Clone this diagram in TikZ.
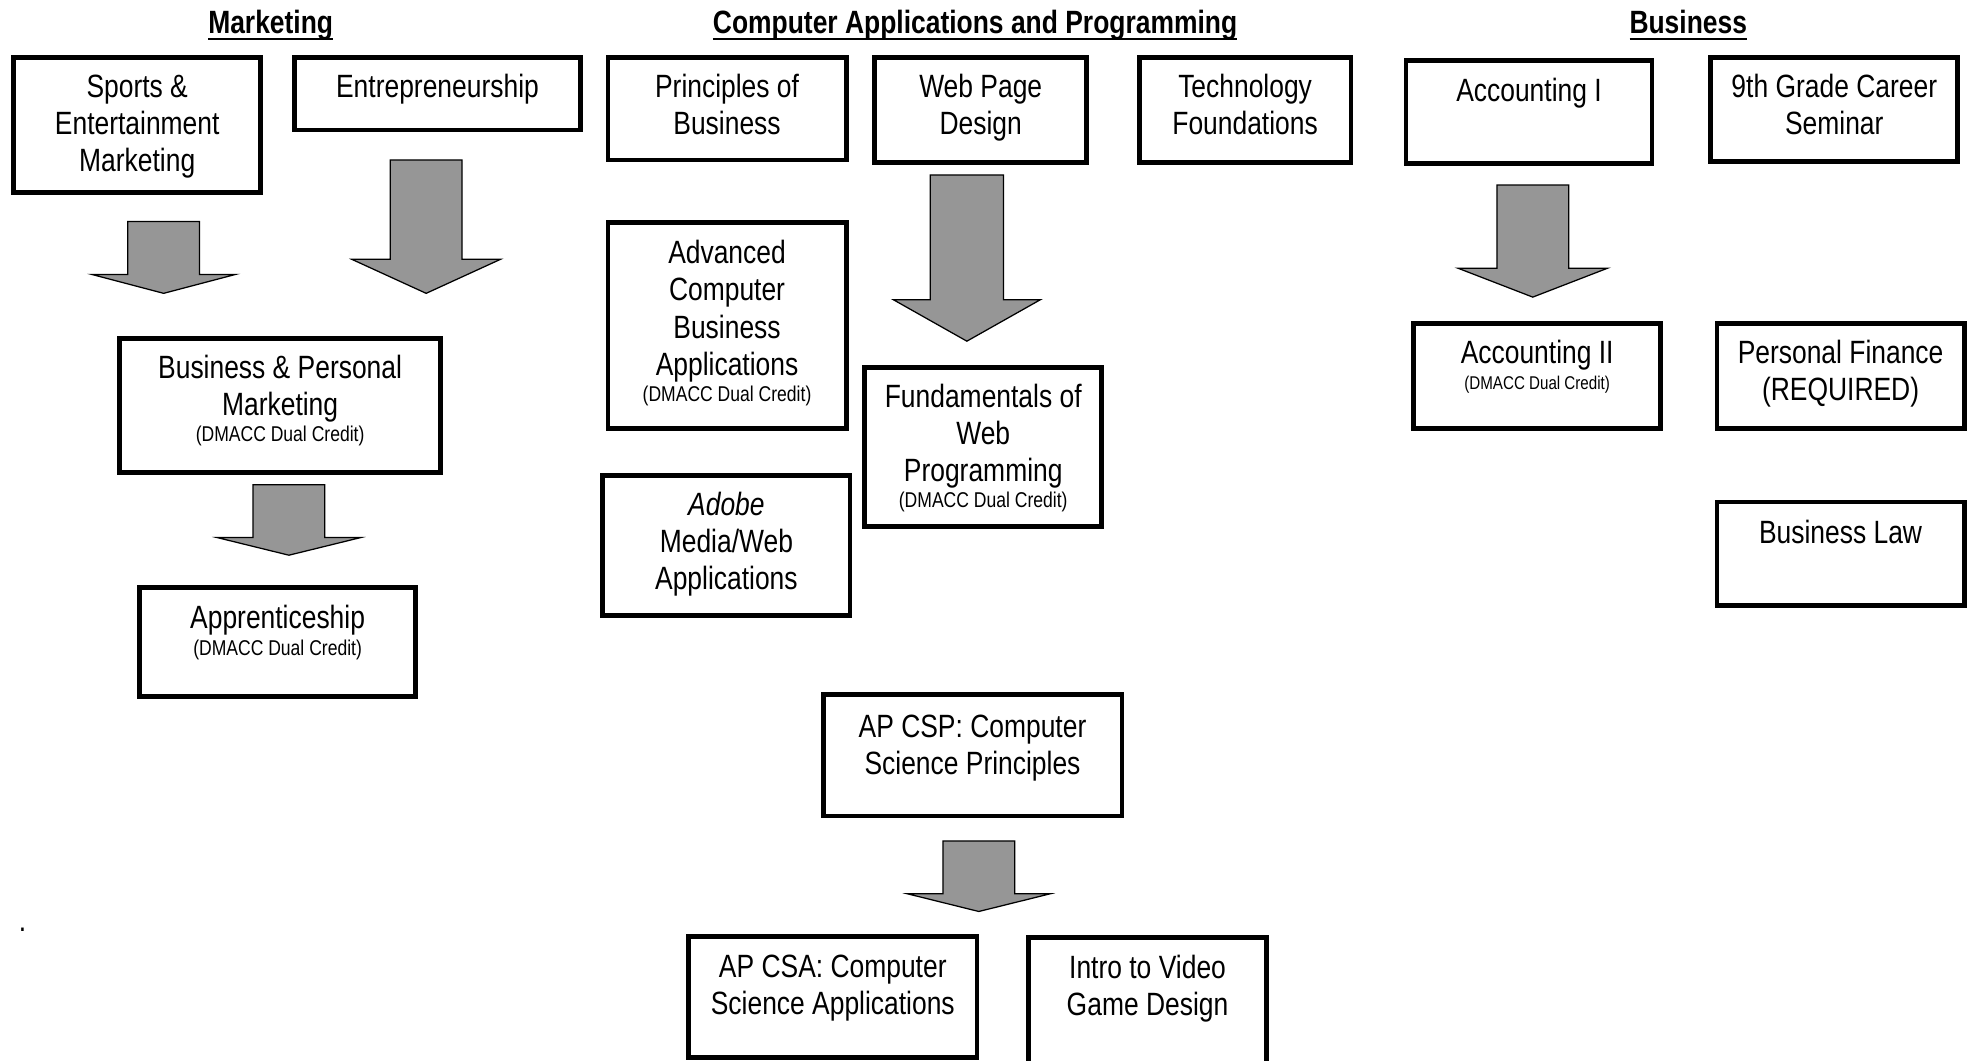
\documentclass[tikz,border=0pt]{standalone}
\usepackage{fontspec}
\setmainfont[FakeStretch=0.82]{Liberation Sans}
\usetikzlibrary{fit}
\definecolor{arrowgray}{RGB}{150,150,150}
\newcommand{\mainsize}{\fontsize{15.36pt}{17.7pt}\selectfont}
\newcommand{\dualcredit}{\fontsize{10.2pt}{12pt}\selectfont (DMACC Dual Credit)}
\newcommand{\dualcreditsm}{\fontsize{8.8pt}{10.5pt}\selectfont (DMACC Dual Credit)}
\newcommand{\headul}[1]{\setbox0\hbox{#1}\rlap{\rule[-3.1pt]{\wd0}{0.9pt}}\box0}
\newcommand{\course}[5]{\node[coursebox, fit={(#2+1.85,#3+1.85) (#4-1.85,#5-1.85)}] (#1) {};}
\newcommand{\blockarrow}[7]{\draw[blockarr] (#2-#3,#4) -- (#2+#3,#4) -- (#2+#3,#5) -- (#2+#6,#5) -- (#2,#7) -- (#2-#6,#5) -- (#2-#3,#5) -- cycle;}
\begin{document}
\begin{tikzpicture}[x=0.6pt,y=-0.6pt,
  coursebox/.style={draw, line width=2.25pt, inner sep=0pt},
  txt/.style={inner sep=0pt, align=center, anchor=north, font=\mainsize},
  heading/.style={inner sep=0pt, anchor=base, font=\mainsize\bfseries},
  blockarr/.style={fill=arrowgray, draw=black, line width=0.6pt, line join=miter}]
\useasboundingbox (0,0) rectangle (1568,842);
\fill[white] (0,0) rectangle (1568,842);

% headings
\node[heading] (hmkt) at (215,26.5) {\headul{Marketing}};
\node[heading] (hcap) at (774.5,26.5) {\headul{Computer Applications and Programming}};
\node[heading] (hbus) at (1341,26.5) {\headul{Business}};

% boxes
\course{sports}{9}{44}{209}{155}
\course{entre}{232}{44}{463}{105}
\course{princ}{481}{44}{674}{129}
\course{webpd}{693}{44}{865}{131}
\course{techf}{903}{44}{1075}{131}
\course{acc1}{1115}{46}{1314}{132}
\course{ninth}{1357}{44}{1557}{130}
\course{advcb}{481}{175}{674}{342}
\course{fundw}{685}{290}{877}{420}
\course{adobe}{477}{376}{677}{491}
\course{bpm}{93}{267}{352}{377}
\course{appr}{109}{465}{332}{555}
\course{acc2}{1121}{255}{1321}{342}
\course{pfin}{1362}{255}{1562}{342}
\course{blaw}{1362}{397}{1562}{483}
\course{apcsp}{652}{550}{893}{650}
\course{apcsa}{545}{742}{778}{842}
\course{intro}{815}{743}{1008}{848}

% texts
\node[txt] (tsports) at (109,56.5) {\strut Sports \&\\Entertainment\\Marketing};
\node[txt] (tentre) at (347.5,56.5) {\strut Entrepreneurship};
\node[txt] (tprinc) at (577.5,56.5) {\strut Principles of\\Business};
\node[txt] (twebpd) at (779,56.5) {\strut Web Page\\Design};
\node[txt] (ttechf) at (989,56.5) {\strut Technology\\Foundations};
\node[txt] (tacc1) at (1214.5,59.5) {\strut Accounting I};
\node[txt] (tninth) at (1457,56.5) {\strut 9th Grade Career\\Seminar};
\node[txt] (tadvcb) at (577.5,188.5) {\strut Advanced\\Computer\\Business\\Applications\\[-5.1pt]\dualcredit};
\node[txt] (tfundw) at (781,302.5) {\strut Fundamentals of\\Web\\Programming\\[-5.1pt]\dualcredit};
\node[txt] (tadobe) at (577,388.5) {\strut\textit{Adobe}\\Media/Web\\Applications};
\node[txt] (tbpm) at (222.5,279.5) {\strut Business \& Personal\\Marketing\\[-5.1pt]\dualcredit};
\node[txt] (tappr) at (220.5,478.5) {\strut Apprenticeship\\[-5.1pt]\dualcredit};
\node[txt] (tacc2) at (1221,267.5) {\strut Accounting II\\[-5.1pt]\dualcreditsm};
\node[txt] (tpfin) at (1462,267.5) {\strut Personal Finance\\(REQUIRED)};
\node[txt] (tblaw) at (1462,410.5) {\strut Business Law};
\node[txt] (tapcsp) at (772.5,564.5) {\strut AP CSP: Computer\\Science Principles};
\node[txt] (tapcsa) at (661.5,755.5) {\strut AP CSA: Computer\\Science Applications};
\node[txt] (tintro) at (911.5,756.5) {\strut Intro to Video\\Game Design};
\node[inner sep=0pt, anchor=base, font=\mainsize] (dot) at (18,740) {.};

% block arrows: name, cx, half shaft, top, head y, half head, tip y
\blockarrow{a1}{130}{28.5}{176}{218}{57}{233}
\blockarrow{a2}{338.5}{28.5}{127}{206}{59}{233}
\blockarrow{a3}{229.5}{28.5}{385}{427}{57}{441}
\blockarrow{a4}{768}{29}{139}{238}{58.5}{271}
\blockarrow{a5}{1217.5}{28.5}{147}{213}{59.5}{236}
\blockarrow{a6}{777.5}{28.5}{668}{710}{56.5}{724}
\end{tikzpicture}
\end{document}
